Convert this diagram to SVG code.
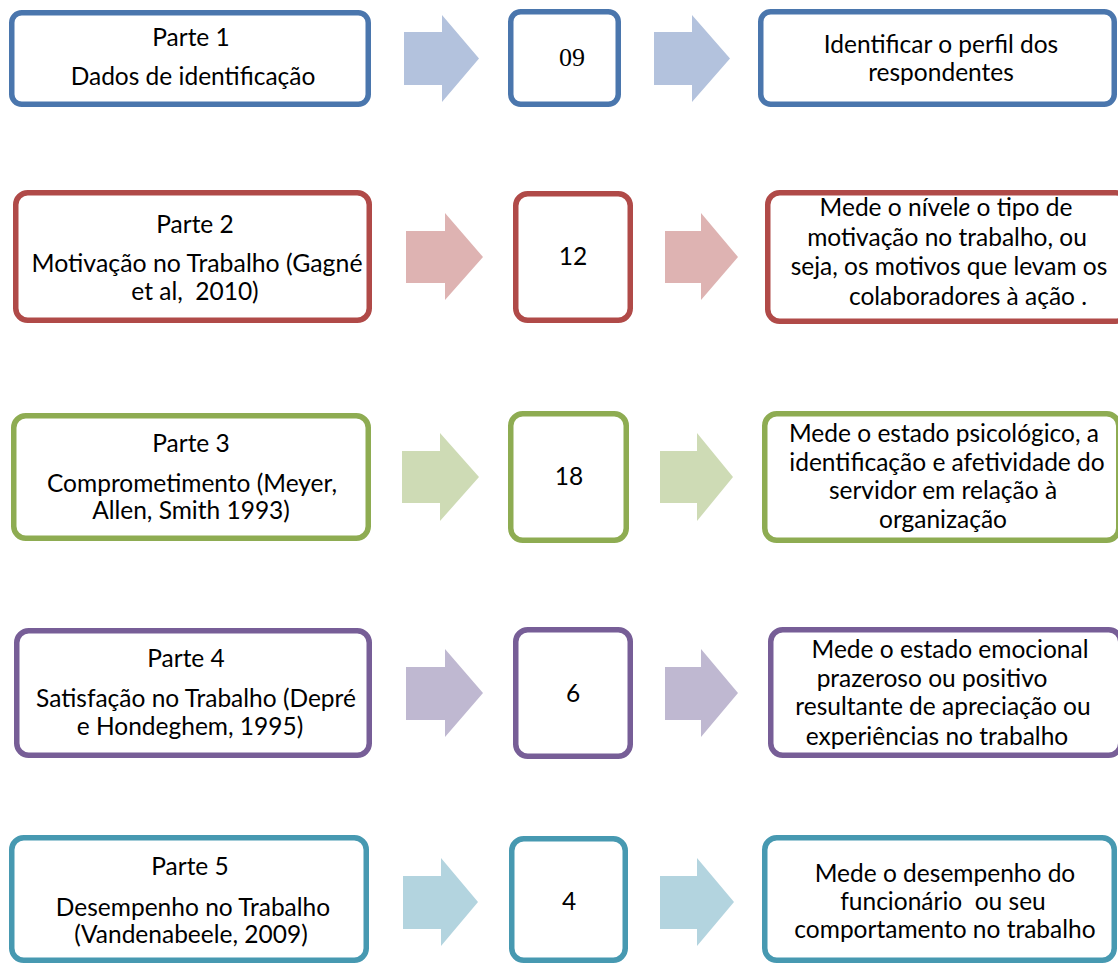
<svg xmlns="http://www.w3.org/2000/svg" width="1118" height="965" viewBox="0 0 1118 965">
<style>
.box{fill:#fff;stroke-width:5.5}
.b1{stroke:#4a76ad}.b2{stroke:#b04a48}.b3{stroke:#8eac52}.b4{stroke:#775e97}.b5{stroke:#4799b1}
.a1{fill:#b3c2dd}.a2{fill:#deb3b2}.a3{fill:#cedbb5}.a4{fill:#bfb8d1}.a5{fill:#b3d4df}
text{font-family:Lato,"Liberation Sans",sans-serif;font-size:24.5px;fill:#000;text-anchor:middle;white-space:pre}
.serif{font-family:"Liberation Serif",serif;font-size:26px}
</style>
<rect width="1118" height="965" fill="#fff"/>
<g id="connectors">
<polygon class="a1" points="404,32 442,32 442,15 479,58.5 442,102 442,85 404,85"/>
<polygon class="a1" points="654,32 692,32 692,15 730,58.5 692,102 692,85 654,85"/>
<polygon class="a2" points="406,231 445,231 445,213 483,257 445,300 445,283 406,283"/>
<polygon class="a2" points="665,231 701,231 701,213 738,257 701,300 701,283 665,283"/>
<polygon class="a3" points="402,451 440,451 440,433 479,477 440,521 440,503 402,503"/>
<polygon class="a3" points="660,451 697,451 697,433 733,477 697,521 697,503 660,503"/>
<polygon class="a4" points="406,667 445,667 445,649 483,693 445,737 445,720 406,720"/>
<polygon class="a4" points="665,667 701,667 701,649 738,693 701,737 701,720 665,720"/>
<polygon class="a5" points="403,876 441,876 441,858 478,902 441,946 441,929 403,929"/>
<polygon class="a5" points="660,876 697,876 697,858 734,902 697,946 697,929 660,929"/>
</g>
<g id="row1-left"><rect class="box b1" x="11.75" y="12.75" width="356.5" height="91.5" rx="10"/>
<text x="191" y="46">Parte 1</text><text x="193" y="85">Dados de identificação</text></g>
<g id="row1-mid"><rect class="box b1" x="510.75" y="11.75" width="107.5" height="92.5" rx="10"/>
<text class="serif" x="572" y="66">09</text></g>
<g id="row1-right"><rect class="box b1" x="760.75" y="11.75" width="353.5" height="92.5" rx="10"/>
<text x="941" y="53">Identificar o perfil dos</text><text x="941" y="81">respondentes</text></g>

<g id="row2-left"><rect class="box b2" x="15.75" y="192.75" width="353.5" height="127.5" rx="12"/>
<text x="195" y="233">Parte 2</text><text x="197" y="272" textLength="331" lengthAdjust="spacingAndGlyphs">Motivação no Trabalho (Gagné</text><text x="195" y="300">et al,  2010)</text></g>
<g id="row2-mid"><rect class="box b2" x="515.75" y="193.75" width="114.5" height="126.5" rx="12"/>
<text x="573" y="265">12</text></g>
<g id="row2-right"><rect class="box b2" x="767.75" y="192.75" width="360" height="128.5" rx="12"/>
<text x="946" y="216">Mede o nível<tspan font-style="italic">e</tspan> o tipo de</text>
<text x="947" y="246">motivação no trabalho, ou</text>
<text x="949" y="275">seja, os motivos que levam os</text>
<text x="968" y="305">colaboradores à ação .</text></g>

<g id="row3-left"><rect class="box b3" x="13.75" y="415.75" width="354.5" height="122.5" rx="12"/>
<text x="191" y="452">Parte 3</text><text x="192" y="492">Comprometimento (Meyer,</text><text x="191" y="519">Allen, Smith 1993)</text></g>
<g id="row3-mid"><rect class="box b3" x="510.75" y="413.75" width="115.5" height="126.5" rx="12"/>
<text x="569" y="485">18</text></g>
<g id="row3-right"><rect class="box b3" x="764.75" y="413.75" width="354" height="126.5" rx="12"/>
<text x="944" y="442">Mede o estado psicológico, a</text>
<text x="947" y="471">identificação e afetividade do</text>
<text x="943" y="499">servidor em relação à</text>
<text x="943" y="528">organização</text></g>

<g id="row4-left"><rect class="box b4" x="16.75" y="630.75" width="352.5" height="124.5" rx="12"/>
<text x="186" y="667">Parte 4</text><text x="196" y="707">Satisfação no Trabalho (Depré</text><text x="190" y="735">e Hondeghem, 1995)</text></g>
<g id="row4-mid"><rect class="box b4" x="515.75" y="629.75" width="114.5" height="126.5" rx="12"/>
<text x="573" y="702">6</text></g>
<g id="row4-right"><rect class="box b4" x="770.75" y="629.75" width="350" height="125.5" rx="12"/>
<text x="950" y="658">Mede o estado emocional</text>
<text x="932" y="687">prazeroso ou positivo</text>
<text x="943" y="715">resultante de apreciação ou</text>
<text x="937" y="745">experiências no trabalho</text></g>

<g id="row5-left"><rect class="box b5" x="11.75" y="837.75" width="354.5" height="122.5" rx="12"/>
<text x="190" y="875">Parte 5</text><text x="193" y="916">Desempenho no Trabalho</text><text x="191" y="943">(Vandenabeele, 2009)</text></g>
<g id="row5-mid"><rect class="box b5" x="511.75" y="838.75" width="113.5" height="121.5" rx="12"/>
<text x="569" y="910">4</text></g>
<g id="row5-right"><rect class="box b5" x="764.75" y="837.75" width="349.5" height="122.5" rx="12"/>
<text x="945" y="882">Mede o desempenho do</text>
<text x="943" y="910">funcionário  ou seu</text>
<text x="945" y="938">comportamento no trabalho</text></g>
</svg>
